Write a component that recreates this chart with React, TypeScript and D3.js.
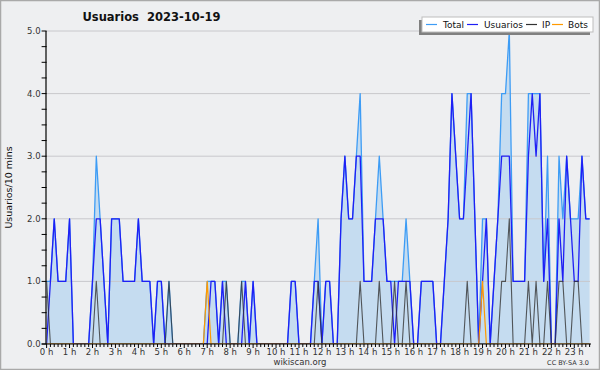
import React from "react";
import * as d3 from "d3";

const usuarios = [
  0, 1, 2, 1, 1, 1, 2, 0, 0, 0,
  0, 0, 1, 2, 2, 1, 0, 2, 2, 2,
  1, 1, 1, 1, 2, 1, 1, 1, 0, 1,
  1, 0, 0, 0, 0, 0, 0, 0, 0, 0,
  0, 0, 0, 1, 1, 0, 1, 0, 0, 0,
  0, 0, 1, 0, 1, 0, 0, 0, 0, 0,
  0, 0, 0, 0, 1, 1, 0, 0, 0, 0,
  1, 1, 0, 1, 1, 0, 0, 2, 3, 2,
  2, 3, 3, 1, 1, 1, 2, 2, 2, 1,
  1, 0, 1, 1, 1, 1, 0, 0, 1, 1,
  1, 1, 0, 0, 1, 2, 4, 3, 2, 2,
  3, 4, 2, 0, 1, 2, 0, 1, 2, 3,
  3, 3, 1, 1, 1, 1, 3, 4, 3, 4,
  1, 2, 0, 0, 2, 1, 3, 2, 1, 1,
  3, 2, 2,
];

const ip = [
  1, 0, 0, 0, 0, 0, 0, 0, 0, 0,
  0, 0, 0, 1, 0, 0, 0, 0, 0, 0,
  0, 0, 0, 0, 0, 0, 0, 0, 0, 0,
  0, 0, 1, 0, 0, 0, 0, 0, 0, 0,
  0, 0, 0, 0, 0, 0, 0, 1, 0, 0,
  0, 1, 0, 0, 0, 0, 0, 0, 0, 0,
  0, 0, 0, 0, 0, 0, 0, 0, 0, 0,
  0, 1, 0, 0, 0, 0, 0, 0, 0, 0,
  0, 0, 1, 0, 0, 0, 0, 1, 0, 0,
  0, 1, 0, 0, 1, 0, 0, 0, 0, 0,
  0, 0, 0, 0, 0, 0, 0, 0, 0, 0,
  1, 0, 0, 0, 0, 0, 0, 0, 0, 1,
  1, 2, 0, 0, 0, 0, 1, 0, 1, 0,
  0, 1, 0, 0, 1, 1, 0, 0, 1, 1,
  0, 0, 0,
];

const bots = [
  0, 0, 0, 0, 0, 0, 0, 0, 0, 0,
  0, 0, 0, 0, 0, 0, 0, 0, 0, 0,
  0, 0, 0, 0, 0, 0, 0, 0, 0, 0,
  0, 0, 0, 0, 0, 0, 0, 0, 0, 0,
  0, 0, 1, 0, 0, 0, 0, 0, 0, 0,
  0, 0, 0, 0, 0, 0, 0, 0, 0, 0,
  0, 0, 0, 0, 0, 0, 0, 0, 0, 0,
  0, 0, 0, 0, 0, 0, 0, 0, 0, 0,
  0, 0, 0, 0, 0, 0, 0, 0, 0, 0,
  0, 0, 0, 0, 0, 0, 0, 0, 0, 0,
  0, 0, 0, 0, 0, 0, 0, 0, 0, 0,
  0, 0, 0, 0, 1, 0, 0, 0, 0, 0,
  0, 0, 0, 0, 0, 0, 0, 0, 0, 0,
  0, 0, 0, 0, 0, 0, 0, 0, 0, 0,
  0, 0, 0,
];

const total = usuarios.map((u, i) => u + ip[i] + bots[i]);

const hourLabels = d3.range(0, 24).map((h) => `${h} h`);
const yTickValues = [0, 1, 2, 3, 4, 5];
const legendItems = [
  { label: "Total", color: "#3d9cf5" },
  { label: "Usuarios", color: "#1f1ff5" },
  { label: "IP", color: "#333333" },
  { label: "Bots", color: "#ff9a00" },
];

const W = 600;
const H = 370;
const X0 = 46.6;
const STEP = 3.824;
const XR = 590;
const YB = 344;
const YT = 31;

export default function App() {
  const x = d3.scaleLinear().domain([0, 144]).range([X0, X0 + 144 * STEP]);
  const y = d3.scaleLinear().domain([0, 5]).range([YB, YT]);
  const idx = d3.range(usuarios.length);

  const area = d3
    .area<number>()
    .x((i) => x(i))
    .y0(y(0))
    .y1((i) => y(total[i]));
  const line = (arr: number[]) =>
    d3
      .line<number>()
      .x((i) => x(i))
      .y((i) => y(arr[i]))(idx) || "";

  const minorY = d3.range(0, 5.001, 0.25);
  const minorX = d3.range(0, 143);
  const font = "DejaVu Sans, Verdana, sans-serif";

  return (
    <svg
      width={W}
      height={H}
      style={{ position: "absolute", left: 0, top: 0 }}
      xmlns="http://www.w3.org/2000/svg"
    >
      <defs>
        <clipPath id="plot">
          <rect x={X0} y={YT - 2} width={XR - X0} height={YB - YT + 2} />
        </clipPath>
      </defs>
      <rect x={0.5} y={0.5} width={W - 1} height={H - 1} fill="#eeeff1" stroke="#a9a9a9" strokeWidth={1.5} />

      <text x={151.5} y={21} textAnchor="middle" fontFamily={font} fontWeight="bold" fontSize={11.5} fill="#111">
        Usuarios{"\u00a0\u00a0"}2023-10-19
      </text>

      <g clipPath="url(#plot)">
        <path d={area(idx) || ""} fill="#c5dcf0" />
      </g>

      {yTickValues.slice(1).map((v) => (
        <line key={"g" + v} x1={X0} x2={XR} y1={y(v)} y2={y(v)} stroke="#c8c8cc" strokeWidth={1} />
      ))}

      <g clipPath="url(#plot)" fill="none" strokeLinejoin="round">
        <path d={line(total)} stroke="#3d9cf5" strokeWidth={1.3} />
        <path d={line(usuarios)} stroke="#1f1ff5" strokeWidth={1.3} />
        <path d={line(ip)} stroke="#333" strokeOpacity={0.8} strokeWidth={1.1} />
        <path d={line(bots)} stroke="#ff9a00" strokeWidth={1.2} />
      </g>

      {/* y axis */}
      <line x1={X0 - 0.6} x2={X0 - 0.6} y1={YT} y2={YB} stroke="#000" strokeWidth={1.2} />
      {minorY.map((v) => (
        <line key={"yt" + v} x1={X0 - 5} x2={X0} y1={y(v)} y2={y(v)} stroke="#000" strokeWidth={1} />
      ))}
      {yTickValues.map((v) => (
        <text key={"yl" + v} x={X0 - 6} y={y(v) + 3} textAnchor="end" fontFamily={font} fontSize={8.5} fill="#333">
          {v.toFixed(1)}
        </text>
      ))}

      {/* x axis */}
      <line x1={X0 - 5} x2={XR + 1} y1={YB} y2={YB} stroke="#000" strokeWidth={1.2} />
      {minorX.map((i) => (
        <line key={"xt" + i} x1={x(i)} x2={x(i)} y1={YB} y2={YB + (i % 6 === 0 ? 4 : 3)} stroke="#000" strokeWidth={1} />
      ))}
      {hourLabels.map((l, h) => (
        <text key={"xl" + h} x={x(h * 6)} y={YB + 11} textAnchor="middle" fontFamily={font} fontSize={8.5} fill="#333">
          {l}
        </text>
      ))}

      <text
        transform={`translate(12, ${(YT + YB) / 2}) rotate(-90)`}
        textAnchor="middle"
        fontFamily={font}
        fontSize={9.5}
        fill="#111"
      >
        Usuarios/10 mins
      </text>

      {/* legend */}
      <rect x={419} y={20} width={171} height={15} fill="#808080" />
      <rect x={422} y={17} width={171} height={15} fill="#fff" stroke="#bdbdbd" strokeWidth={1} />
      {(() => {
        const pos = [
          { lx: 426, tx: 443 },
          { lx: 467, tx: 484 },
          { lx: 526, tx: 542 },
          { lx: 552, tx: 568 },
        ];
        return legendItems.map((it, k) => (
          <g key={it.label}>
            <line x1={pos[k].lx} x2={pos[k].lx + 11} y1={24.5} y2={24.5} stroke={it.color} strokeWidth={1.2} />
            <text x={pos[k].tx} y={28} fontFamily={font} fontSize={9} fill="#111">
              {it.label}
            </text>
          </g>
        ));
      })()}

      <text x={300} y={365} textAnchor="middle" fontFamily={font} fontSize={8.5} fill="#333">
        wikiscan.org
      </text>
      <text x={589} y={365} textAnchor="end" fontFamily={font} fontSize={6.5} fill="#333">
        CC BY-SA 3.0
      </text>
    </svg>
  );
}
